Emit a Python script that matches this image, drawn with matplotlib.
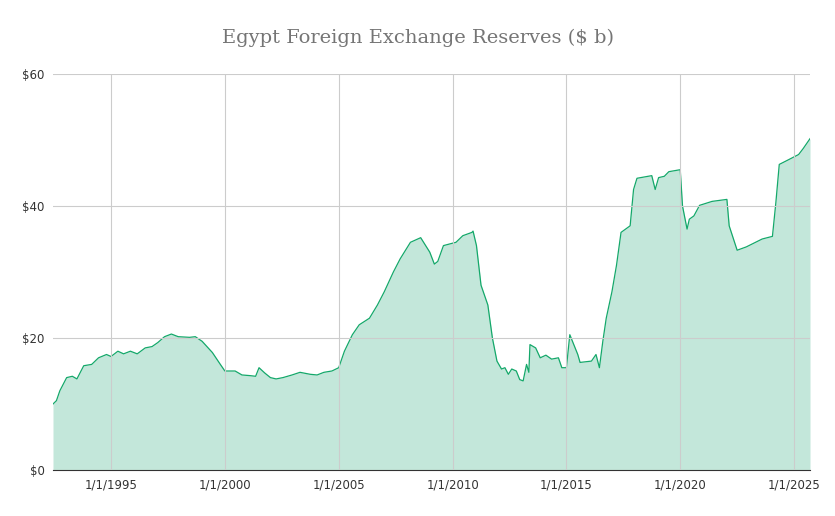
import matplotlib
matplotlib.use("Agg")
import matplotlib.pyplot as plt

# fractional years and reserves in billions of dollars
years = [1992.45, 1992.6, 1992.75, 1993.05, 1993.3, 1993.5, 1993.8, 1994.15, 1994.45, 1994.8,
         1995.0, 1995.3, 1995.55, 1995.85, 1996.15, 1996.5, 1996.8, 1997.05, 1997.35, 1997.65,
         1997.95, 1998.45, 1998.7, 1999.0, 1999.45, 1999.8, 2000.0, 2000.45, 2000.75, 2001.1,
         2001.35, 2001.5, 2001.75, 2002.0, 2002.25, 2002.55, 2002.95, 2003.3, 2003.75, 2004.05,
         2004.35, 2004.7, 2005.0, 2005.25, 2005.6, 2005.9, 2006.35, 2006.7, 2007.0, 2007.4,
         2007.7, 2008.15, 2008.6, 2009.0, 2009.2, 2009.35, 2009.6, 2010.15, 2010.45, 2010.85,
         2010.9, 2011.05, 2011.25, 2011.55, 2011.75, 2011.95, 2012.15, 2012.3, 2012.45, 2012.6,
         2012.8, 2012.95, 2013.1, 2013.25, 2013.35, 2013.4, 2013.65, 2013.85, 2014.1, 2014.35,
         2014.65, 2014.8, 2015.0, 2015.15, 2015.5, 2015.6, 2016.1, 2016.3, 2016.45, 2016.6,
         2016.75, 2017.0, 2017.2, 2017.4, 2017.8, 2017.95, 2018.1, 2018.75, 2018.9, 2019.05,
         2019.3, 2019.5, 2020.0, 2020.1, 2020.3, 2020.4, 2020.6, 2020.85, 2021.4, 2022.05,
         2022.15, 2022.5, 2022.9, 2023.6, 2024.05, 2024.2, 2024.35, 2024.75, 2025.2, 2025.4,
         2025.7]
reserves = [10.0, 10.5, 12.0, 14.0, 14.2, 13.8, 15.8, 16.0, 17.0, 17.5,
            17.2, 18.0, 17.6, 18.0, 17.6, 18.5, 18.7, 19.3, 20.2, 20.6,
            20.2, 20.1, 20.2, 19.5, 17.8, 16.0, 15.0, 15.0, 14.4, 14.3,
            14.2, 15.5, 14.7, 14.0, 13.8, 14.0, 14.4, 14.8, 14.5, 14.4,
            14.8, 15.0, 15.5, 18.0, 20.5, 22.0, 23.0, 25.0, 27.0, 30.0,
            32.0, 34.5, 35.2, 33.0, 31.2, 31.6, 34.0, 34.5, 35.5, 36.0,
            36.2, 34.0, 28.0, 25.0, 20.0, 16.5, 15.3, 15.5, 14.5, 15.3,
            15.0, 13.7, 13.5, 16.0, 14.8, 19.0, 18.5, 17.0, 17.4, 16.8,
            17.0, 15.5, 15.5, 20.5, 17.5, 16.3, 16.5, 17.5, 15.5, 19.5,
            23.0, 27.0, 31.0, 36.0, 37.0, 42.5, 44.2, 44.6, 42.5, 44.3,
            44.5, 45.2, 45.5, 40.0, 36.5, 38.0, 38.5, 40.1, 40.7, 41.0,
            37.0, 33.3, 33.8, 35.0, 35.4, 40.5, 46.3, 47.0, 47.8, 48.7,
            50.2]
tick_years = [1995, 2000, 2005, 2010, 2015, 2020, 2025]
tick_labels = ["1/1/" + str(y) for y in tick_years]
y_ticks = [0, 20, 40, 60]

fig = plt.figure(figsize=(8.35, 5.16), dpi=100)
ax = fig.add_axes([53 / 835, 1 - 470 / 516, 757 / 835, 396 / 516])

ax.fill_between(years, reserves, 0, color="#c3e7da", lw=0)
ax.plot(years, reserves, color="#14a86a", lw=0.9)

ax.set_xlim(years[0], years[-1])
ax.set_ylim(0, 60)
ax.set_xticks(tick_years)
ax.set_xticklabels(tick_labels)
ax.set_yticks(y_ticks)
ax.set_yticklabels(["$" + str(v) for v in y_ticks])
ax.grid(True, color="#cccccc", lw=0.8)
ax.set_axisbelow(False)
for s in ["top", "right", "left"]:
    ax.spines[s].set_visible(False)
ax.spines["bottom"].set_color("#333333")
ax.tick_params(length=0, labelsize=8.5, colors="#333333", pad=6)

fig.text(0.5, 1 - 38 / 516, "Egypt Foreign Exchange Reserves ($ b)", ha="center", va="center",
         fontsize=14, color="#757575", family="DejaVu Serif")

fig.savefig("out.png", dpi=100)
